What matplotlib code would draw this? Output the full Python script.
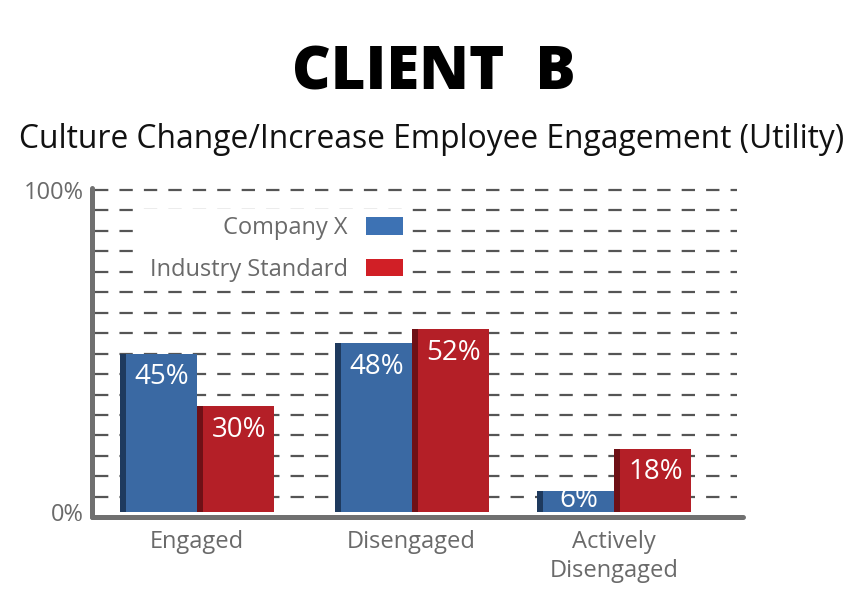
import numpy as np
import matplotlib
matplotlib.use("Agg")
import matplotlib.pyplot as plt
from matplotlib.patches import Patch

# data
categories = ["Engaged", "Disengaged", "Actively\nDisengaged"]
company_x = [45, 48, 6]
industry = [30, 52, 18]
series_names = ["Company X", "Industry Standard"]

title = "CLIENT  B"
subtitle = "Culture Change/Increase Employee Engagement (Utility)"

# colours
blue_face, blue_side, blue_key = "#3a69a3", "#1e3a5e", "#3d72b4"
red_face, red_side, red_key = "#b41f27", "#6f1016", "#d11f26"
grey_text = "#6a6a6a"
axis_grey = "#707070"
grid_grey = "#555555"

plt.rcParams["font.family"] = ["Open Sans", "DejaVu Sans"]

fig = plt.figure(figsize=(8.67, 6.05), dpi=100)
ax = fig.add_axes([0.1061, 0.14545, 0.7509, 0.54381])

# group centres (middle group sits a little right in the original)
x = np.array([0, 1.03, 2])
width = 0.369
side = 0.03

for vals, face, dark, sign in [(company_x, blue_face, blue_side, -1),
                               (industry, red_face, red_side, 0)]:
    left = x + sign * width
    ax.bar(left, vals, width=width, align="edge", color=face, zorder=2)
    ax.bar(left, vals, width=side, align="edge", color=dark, zorder=2.1)
    for lx, v in zip(left, vals):
        ly = v - 6.7 if v >= 12 else v / 2 + 0.4
        ax.text(lx + side + (width - side) / 2, ly, f"{v}%", color="white",
                fontsize=20, ha="center", va="center", zorder=3)

# dashed guide lines
for gy in np.linspace(4.3, 91.5, 16):
    ax.axhline(gy, xmin=0.005, xmax=0.991, color=grid_grey, lw=1.6,
               ls=(0, (6, 5)), zorder=1)

ax.set_xlim(-0.504, 2.62)
ax.set_ylim(-1.42, 92.05)

ax.set_yticks([0, 91.5])
ax.set_yticklabels(["0%", "100%"])
ax.set_xticks(x)
ax.set_xticklabels(categories)
ax.tick_params(length=0, labelsize=17, labelcolor=grey_text)
ax.tick_params(axis="x", pad=9)
ax.tick_params(axis="y", pad=6)
for lab in ax.get_xticklabels():
    lab.set_linespacing(1.3)

for s in ["top", "right"]:
    ax.spines[s].set_visible(False)
for s in ["left", "bottom"]:
    ax.spines[s].set_linewidth(3.6)
    ax.spines[s].set_color(axis_grey)
    ax.spines[s].set_capstyle("round")
    ax.spines[s].set_zorder(2.5)

handles = [Patch(facecolor=blue_key), Patch(facecolor=red_key)]
leg = ax.legend(handles, series_names, loc="upper right",
                bbox_to_anchor=(410 / 867, 1 - 209 / 605),
                bbox_transform=fig.transFigure, borderaxespad=0,
                markerfirst=False, fontsize=17, labelcolor=grey_text,
                handlelength=1.57, handleheight=0.78, handletextpad=0.76,
                labelspacing=0.75, borderpad=0.3, frameon=True,
                fancybox=False, edgecolor="none", facecolor="white",
                framealpha=1)
leg.set_zorder(5)
for t in leg.get_texts():
    t.set_ha("right")

fig.text(0.5, 1 - 90 / 605, title, ha="center", va="baseline",
         fontsize=43, fontweight="heavy", color="black")
fig.text(431.5 / 867, 1 - 148 / 605, subtitle, ha="center", va="baseline",
         fontsize=22.9, color="#111111")

fig.savefig("out.png", dpi=100)
